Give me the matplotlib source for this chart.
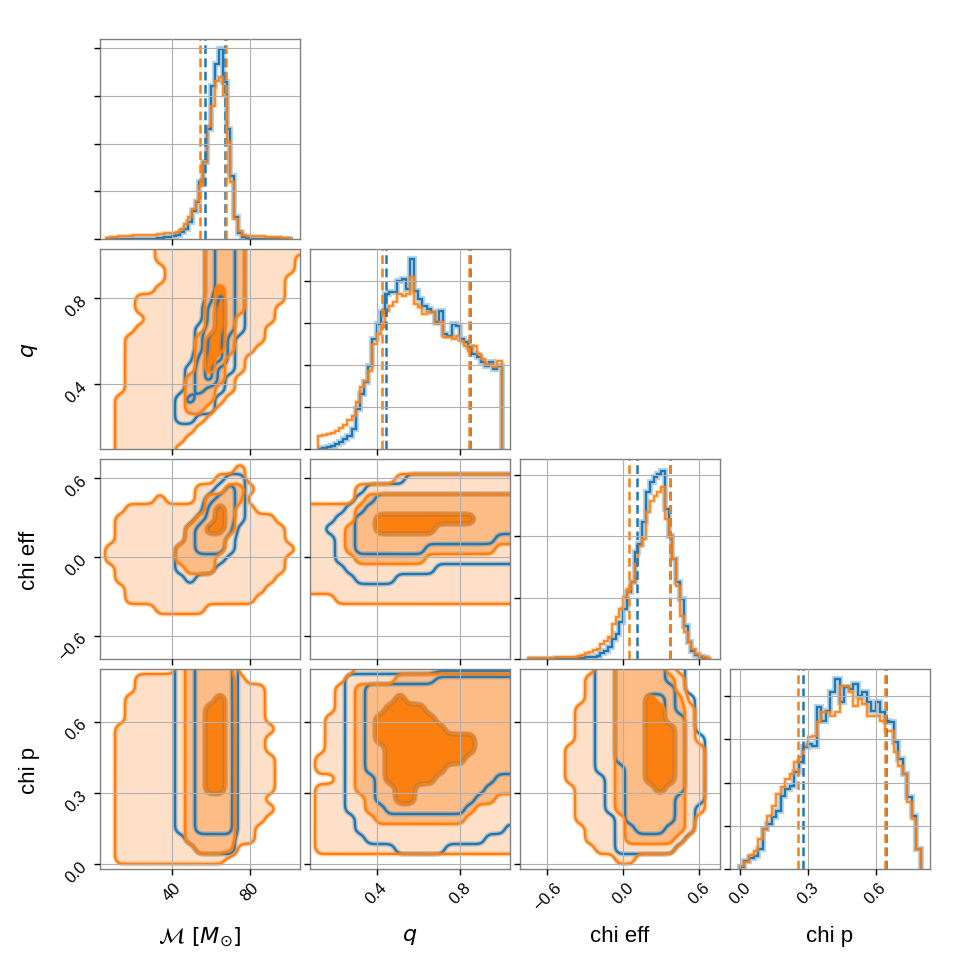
import numpy as np
import matplotlib.pyplot as plt
from matplotlib import patheffects as pe
from matplotlib.ticker import MultipleLocator

plt.rcParams['font.family'] = ['Liberation Sans', 'DejaVu Sans']
plt.rcParams['mathtext.fontset'] = 'dejavusans'

BLUE = '#1f77b4'
ORANGE = '#ff7f0e'
FILLS = ['#fee0c8', '#fdbc86', '#fb800f']

labels = [r'$\mathcal{M}\ [M_{\odot}]$', r'$q$', 'chi eff', 'chi p']
col_ranges = [(2.8, 105.8), (0.08, 1.04), (-0.816, 0.766), (-0.044, 0.84)]
row_ranges = [(2.8, 105.8), (0.100, 1.027), (-0.778, 0.747), (-0.021, 0.822)]
ticks = [[40, 80], [0.4, 0.8], [-0.6, 0.0, 0.6], [0.0, 0.3, 0.6]]

# 1D histograms (heights in units where the panel top is 6)
mc_edges = np.linspace(6, 102, 49)
mc_blue = [0, 0, 0, 0, 0, 0, 0, 0, 0, 0, 0, 0, 0,
           0.02, 0.03, 0.05, 0.07, 0.10, 0.12, 0.2, 0.3, 0.5, 0.85, 1.1,
           1.7, 2.3, 3.3, 4.6, 5.25, 5.7, 4.7, 3.3, 1.9, 0.65, 0.18, 0.05,
           0.02, 0, 0, 0, 0, 0, 0, 0, 0, 0, 0, 0]
mc_orange = [0.03, 0.05, 0.07, 0.08, 0.08, 0.1, 0.1, 0.12, 0.12, 0.12, 0.13,
             0.13, 0.13, 0.14, 0.14, 0.18, 0.18, 0.18, 0.22, 0.3, 0.45, 0.65,
             0.9, 1.15, 1.6, 2.3, 3.4, 4.0, 4.75, 4.85, 4.3, 2.9, 1.7, 0.6,
             0.25, 0.12, 0.1, 0.1, 0.1, 0.1, 0.08, 0.06, 0.05, 0.05, 0.05,
             0.04, 0.02, 0.01]

q_edges = np.linspace(0.12, 1.0, 45)
q_blue = [0.0, 0.02, 0.05, 0.1, 0.15, 0.2, 0.3, 0.4, 0.6, 1.2,
          1.65, 2.0, 2.5, 3.3, 3.75, 4.1, 4.65, 4.7, 4.7, 5.05,
          5.1, 4.8, 5.7, 4.75, 4.5, 4.3, 4.2, 4.1, 3.8, 4.15,
          3.45, 3.4, 3.75, 3.7, 3.3, 3.2, 3.05, 2.85, 2.75, 2.6,
          2.5, 2.6, 2.4, 2.5]
q_orange = [0.40, 0.42, 0.45, 0.48, 0.55, 0.62, 0.72, 0.88, 1.0, 1.4,
            1.85, 2.05, 2.35, 3.15, 3.45, 3.65, 4.15, 4.3, 4.4, 4.65,
            4.6, 4.65, 5.15, 4.35, 4.25, 4.05, 4.1, 4.1, 3.75, 3.8,
            3.35, 3.35, 3.3, 3.4, 3.25, 3.1, 2.95, 3.1, 2.85, 2.7,
            2.55, 2.55, 2.45, 2.65]

chieff_edges = np.linspace(-0.75, 0.69, 49)
chieff_blue = [0, 0, 0, 0, 0, 0, 0, 0, 0, 0, 0, 0, 0,
               0.03, 0.04, 0.05, 0.06, 0.07, 0.1, 0.18, 0.25, 0.35, 0.6,
               0.75, 1.1, 1.5, 2.0, 2.3, 3.2, 3.45, 4.1, 5.0, 5.3, 5.45,
               5.55, 5.65, 4.5, 3.7, 3.0, 2.3, 1.8, 1.0, 0.5, 0.25, 0.12,
               0.06, 0.03, 0.0]
chieff_orange = [0.02, 0.02, 0.02, 0.02, 0.02, 0.02, 0.03, 0.05, 0.05, 0.05,
                 0.05, 0.05, 0.06, 0.08, 0.12, 0.18, 0.22, 0.26, 0.3, 0.45,
                 0.55, 0.65, 1.05, 1.25, 1.5, 1.85, 2.1, 2.3, 2.85, 3.4,
                 3.6, 4.4, 4.75, 4.9, 5.0, 5.15, 4.2, 3.7, 3.0, 2.2,
                 1.3, 0.8, 0.5, 0.3, 0.15, 0.08, 0.05, 0.02]

chip_edges = np.linspace(0.0, 0.8, 41)
chip_blue = [0.05, 0.25, 0.32, 0.38, 0.6, 1.2, 1.35, 1.55, 1.75, 2.2,
             2.4, 2.5, 2.9, 3.2, 3.65, 3.75, 3.7, 4.85, 4.45, 4.75,
             5.3, 5.7, 5.0, 5.45, 5.4, 5.55, 5.2, 5.3, 5.0, 4.75,
             5.0, 4.7, 4.45, 4.4, 3.8, 3.3, 2.85, 2.15, 1.6, 0.6]
chip_orange = [0.1, 0.2, 0.42, 0.55, 0.9, 1.2, 1.6, 1.9, 2.25, 2.45,
               2.7, 2.85, 3.2, 3.35, 3.7, 3.95, 4.0, 4.4, 4.7, 4.7,
               4.6, 4.7, 5.5, 5.5, 5.3, 4.9, 5.1, 4.95, 4.6, 4.6,
               4.6, 4.45, 4.15, 4.15, 3.5, 3.1, 2.85, 2.0, 1.5, 0.6]

hist_tick_step = [1.43, 1.2575, 1.843, 1.295]

# 5% / 95% quantiles
quant_blue = [[57.1, 67.4], [0.445, 0.848], [0.111, 0.372], [0.280, 0.646]]
quant_orange = [[54.5, 67.9], [0.424, 0.845], [0.05, 0.367], [0.255, 0.642]]

# 2D credible-level maps on a 21x21 grid (top row first):
# 0 outside, 1 inside outer level, 2 inside middle level, 3 inside inner level
mc_q_orange = [
    "000000111112222111111", "000000111112222111110", "000000011112222111110",
    "000000011112222111100", "000000111112322111100", "000011111112322111100",
    "000011111112322111000", "000001111112321111000", "000011111112321110000",
    "000111111123321110000", "000111111123321100000", "000111111123211000000",
    "000111111123211000000", "000111111222210000000", "000111111222110000000",
    "001111111222100000000", "001111111221000000000", "001111111110000000000",
    "001111111100000000000", "001111111000000000000", "001111110000000000000"]
mc_q_blue = [
    "000000000001221000000", "000000000001221000000", "000000000001221000000",
    "000000000001221000000", "000000000001221000000", "000000000001321000000",
    "000000000002321000000", "000000000002321000000", "000000000012321000000",
    "000000000013310000000", "000000000013310000000", "000000000023310000000",
    "000000000123110000000", "000000000123100000000", "000000000121100000000",
    "000000001211000000000", "000000001111000000000", "000000001100000000000",
    "000000000000000000000", "000000000000000000000", "000000000000000000000"]

mc_chieff_orange = [
    "000000000000000000000", "000000000000001000000", "000000000000111000000",
    "000000000011122100000", "000000100012222000000", "000111111112321100000",
    "001111111122321111000", "001111111223321111100", "001111111222211111100",
    "011111112222211111110", "011111112222111111100", "001111111222111111100",
    "001111111111111111000", "000111111111111110000", "000111111111111100000",
    "000000111110000000000", "000000000000000000000", "000000000000000000000",
    "000000000000000000000", "000000000000000000000", "000000000000000000000"]
mc_chieff_blue = [
    "000000000000000000000", "000000000000000000000", "000000000000011000000",
    "000000000000121000000", "000000000001221000000", "000000000002321000000",
    "000000000012321000000", "000000000123320000000", "000000000122210000000",
    "000000001122210000000", "000000001111100000000", "000000001111000000000",
    "000000000100000000000", "000000000000000000000", "000000000000000000000",
    "000000000000000000000", "000000000000000000000", "000000000000000000000",
    "000000000000000000000", "000000000000000000000", "000000000000000000000"]

q_chieff_orange = [
    "000000000000000000000", "000000000000000000000", "000000000111111111111",
    "000001111111111111111", "000001222222222222222", "111112222222222222222",
    "111112233333333332222", "111122233333322222222", "111122222222222222222",
    "111122222222222222211", "111112222222111111111", "111111111111111111111",
    "111111111111111111111", "111111111111111111111", "000111111111111111111",
    "000000000000000000000", "000000000000000000000", "000000000000000000000",
    "000000000000000000000", "000000000000000000000", "000000000000000000000"]
q_chieff_blue = [
    "000000000000000000000", "000000000000000000000", "000000000011111111111",
    "000000111111111111111", "000001122222222222222", "000011222222222222222",
    "000112233333333332222", "001112233333322222222", "000112222222222222211",
    "000112222222111111111", "000111111111111111111", "000011111111100000000",
    "000001111000000000000", "000000000000000000000", "000000000000000000000",
    "000000000000000000000", "000000000000000000000", "000000000000000000000",
    "000000000000000000000", "000000000000000000000", "000000000000000000000"]

mc_chip_orange = [
    "000000001222220000000", "000011111222221000000", "000011111222221110000",
    "000111111222321110000", "000111111223321110000", "000111111223321110000",
    "001111111223321111000", "001111111223321110000", "001111111223321110000",
    "001111111223321111000", "001111111223321111000", "001111111223321111000",
    "001111111223321111000", "001111111222221110000", "001111111222221111000",
    "001111111222221110000", "001111111222221100000", "001111111222221100000",
    "001111111122220000000", "001111111111100000000", "000000000000000000000"]
mc_chip_blue = [
    "000000001122220000000", "000000001122220000000", "000000001122220000000",
    "000000001122320000000", "000000001123320000000", "000000001123320000000",
    "000000001123320000000", "000000001123320000000", "000000001123320000000",
    "000000001123320000000", "000000001123320000000", "000000001123320000000",
    "000000001123320000000", "000000001122220000000", "000000001122220000000",
    "000000001122220000000", "000000001122220000000", "000000000111110000000",
    "000000000011110000000", "000000000000000000000", "000000000000000000000"]

q_chip_orange = [
    "000001111111111111111", "000011111222222222222", "000112222222222222222",
    "000112222322222222222", "000112223333222222222", "001112233333322222222",
    "001112233333332222222", "001112233333333332222", "001112223333333332222",
    "011112223333333322222", "011112223333332222222", "000112223333322222222",
    "011112222332222222222", "011111222332222222211", "011111222222222221111",
    "011111122222222211111", "011111111111111111111", "011111111111111111111",
    "011111111111111111111", "000000000000000000000", "000000000000000000000"]
q_chip_blue = [
    "000000000000000000000", "000011111111122222222", "000011222222222222222",
    "000011222322222222222", "000011223333222222222", "000011233333322222222",
    "000011233333332222222", "000011233333333332222", "000011223333333332222",
    "000011223333333322222", "000011223333332222222", "000011123333322222211",
    "000011122332222222111", "000011122332222221111", "000011112222222211111",
    "000001111111111111111", "000001111111111111110", "000000111111111111000",
    "000000000111110000000", "000000000000000000000", "000000000000000000000"]

chieff_chip_orange = [
    "000000001122222100000", "000000011122222210000", "000000011122222210000",
    "000000011122232220000", "000000111122233221000", "000000111122233221000",
    "000000111122233321000", "000000111122233321000", "000001111122233321100",
    "000001111122233321100", "000001111122233321100", "000001111122233321100",
    "000000111122223221100", "000000111122222221100", "000000111122222221100",
    "000000111112222221000", "000000011112222221000", "000000011112222210000",
    "000000001111111100000", "000000000011000000000", "000000000000000000000"]
chieff_chip_blue = [
    "000000001122222110000", "000000001122222110000", "000000001122222210000",
    "000000001122233211000", "000000001122233211000", "000000001122233221000",
    "000000001122233321000", "000000001122233321100", "000000001122233321100",
    "000000001122233321100", "000000001112233321100", "000000000112233321100",
    "000000000112223221100", "000000000112222211100", "000000000112222211000",
    "000000000012222211000", "000000000011222111000", "000000000011111110000",
    "000000000011111100000", "000000000000000000000", "000000000000000000000"]

hist_data = [
    (mc_edges, mc_blue, mc_orange),
    (q_edges, q_blue, q_orange),
    (chieff_edges, chieff_blue, chieff_orange),
    (chip_edges, chip_blue, chip_orange),
]
maps_2d = {
    (1, 0): (mc_q_orange, mc_q_blue),
    (2, 0): (mc_chieff_orange, mc_chieff_blue),
    (2, 1): (q_chieff_orange, q_chieff_blue),
    (3, 0): (mc_chip_orange, mc_chip_blue),
    (3, 1): (q_chip_orange, q_chip_blue),
    (3, 2): (chieff_chip_orange, chieff_chip_blue),
}

N_FINE = 161


def level_map(rows, sigma=2.2):
    # resample the level map onto a fine grid and blur it, like corner's smoothing
    z = np.array([[int(c) for c in r] for r in rows], dtype=float)
    k = np.arange(z.shape[0])
    t = np.linspace(0, z.shape[0] - 1, N_FINE)
    fine = np.array([np.interp(t, k, r) for r in z])
    fine = np.array([np.interp(t, k, c) for c in fine.T]).T
    r = int(3 * sigma)
    s = np.arange(-r, r + 1)
    w = np.exp(-0.5 * (s / sigma) ** 2)
    w /= w.sum()
    pad = np.pad(fine, r, mode='edge')
    tmp = np.apply_along_axis(lambda v: np.convolve(v, w, mode='valid'), 1, pad)
    return np.apply_along_axis(lambda v: np.convolve(v, w, mode='valid'), 0, tmp)


def halo(color, width):
    return [pe.Stroke(linewidth=width, foreground=color, alpha=0.3), pe.Normal()]


fig, axes = plt.subplots(4, 4, figsize=(9.7, 9.7), dpi=100)
fig.subplots_adjust(left=100 / 970, right=930 / 970, bottom=100 / 970,
                    top=930 / 970, wspace=0.05, hspace=0.05)

for i in range(4):
    for j in range(4):
        ax = axes[i, j]
        if j > i:
            ax.axis('off')
            continue

        if i == j:
            edges, hb, ho = hist_data[i]
            ax.stairs(hb, edges, color=BLUE, lw=1.7, path_effects=halo(BLUE, 4.5))
            ax.stairs(ho, edges, color=ORANGE, lw=1.2, path_effects=halo(ORANGE, 3))
            for v in quant_blue[i]:
                ax.axvline(v, color=BLUE, lw=1.8, dashes=(3.5, 1.8))
            for v in quant_orange[i]:
                ax.axvline(v, color=ORANGE, lw=1.8, dashes=(3.5, 1.8))
            ax.set_ylim(0, 6)
            ax.yaxis.set_major_locator(MultipleLocator(hist_tick_step[i]))
            ax.set_yticklabels([])
        else:
            orange_rows, blue_rows = maps_2d[(i, j)]
            x = np.linspace(*col_ranges[j], N_FINE)
            y = np.linspace(row_ranges[i][1], row_ranges[i][0], N_FINE)
            zo = level_map(orange_rows)
            zb = level_map(blue_rows)
            ax.contourf(x, y, zo, levels=[0.5, 1.5, 2.5, 3.5], colors=FILLS)
            cb = ax.contour(x, y, zb, levels=[0.5, 1.5, 2.5], colors=BLUE,
                            linewidths=1.7)
            cb.set_path_effects(halo(BLUE, 3.8))
            co = ax.contour(x, y, zo, levels=[0.5, 1.5, 2.5], colors=ORANGE,
                            linewidths=1.7)
            co.set_path_effects(halo(ORANGE, 3.8))
            ax.set_ylim(*row_ranges[i])
            ax.set_yticks(ticks[i])
            if j == 0:
                for lab in ax.get_yticklabels():
                    lab.set_rotation(45)
                ax.set_ylabel(labels[i], fontsize=16)
                ax.yaxis.set_label_coords(-0.3, 0.5)
            else:
                ax.set_yticklabels([])

        ax.set_xlim(*col_ranges[j])
        ax.set_xticks(ticks[j])
        if i == 3:
            for lab in ax.get_xticklabels():
                lab.set_rotation(45)
            ax.set_xlabel(labels[j], fontsize=16)
            ax.xaxis.set_label_coords(0.5, -0.28)
        else:
            ax.set_xticklabels([])

        ax.grid(True, color='#b0b0b0', lw=0.8)
        ax.set_axisbelow(False)
        ax.tick_params(direction='out', length=4, width=1, labelsize=12)
        for s in ax.spines.values():
            s.set_color('#808080')
            s.set_linewidth(1.0)

fig.savefig('out.png', dpi=100)
